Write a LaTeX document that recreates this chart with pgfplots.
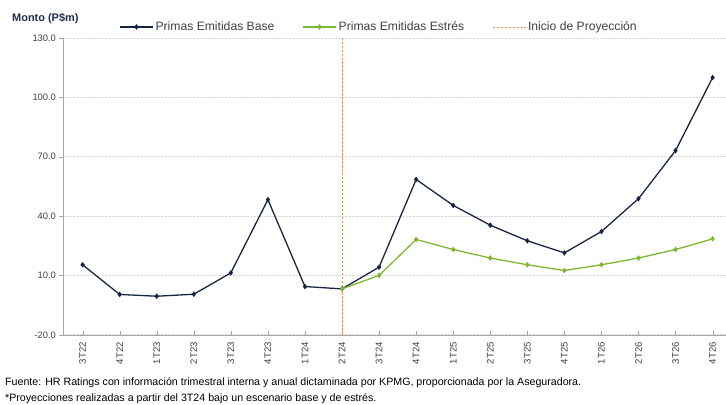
\documentclass[border=0pt]{standalone}
\usepackage{pgfplots}
\pgfplotsset{compat=1.18}
\usepackage{fontspec}
\setmainfont{Liberation Sans}
\definecolor{navy}{HTML}{172544}
\definecolor{lgreen}{HTML}{7DB92E}
\definecolor{orng}{HTML}{F0902E}
\definecolor{txt}{HTML}{404040}
\definecolor{gridc}{HTML}{D9D9D9}
\definecolor{axc}{HTML}{A6A6A6}
\definecolor{ttl}{HTML}{1F2D4E}
\begin{document}
\begin{tikzpicture}[x=1bp,y=1bp]
\path (0,0) rectangle (726,405);
\begin{axis}[
  at={(63bp,70bp)}, anchor=south west,
  width=663bp, height=297bp, scale only axis,
  xmin=-0.53, xmax=17.35, ymin=-20, ymax=130,
  ytick={-20,10,40,70,100,130},
  xtick={0,...,17},
  xticklabels={3T22,4T22,1T23,2T23,3T23,4T23,1T24,2T24,3T24,4T24,1T25,2T25,3T25,4T25,1T26,2T26,3T26,4T26},
  axis x line=bottom, axis y line=left,
  axis line style={axc,-},
  x tick label style={rotate=90, anchor=east, font=\fontsize{9.6}{10}\selectfont, text=txt, xshift=-4bp},
  y tick label style={font=\fontsize{9.4}{10}\selectfont, text=txt},
  /pgf/number format/.cd, fixed, fixed zerofill, precision=1, assume math mode=true,
  /pgfplots/.cd,
  ymajorgrids, grid style={gridc, densely dotted, line width=0.8pt},
  major tick length=3.5bp,
  xtick align=inside, ytick align=outside,
  tick style={axc},
  legend columns=3,
  legend style={draw=none, fill=none, at={(0.477,1.037)}, anchor=center,
    font=\fontsize{12.2}{13}\selectfont, text=txt, inner sep=0pt,
    /tikz/every even column/.append style={column sep=26bp}},
  legend image code/.code={\draw[#1] (0bp,0bp) -- (33bp,0bp); \path[#1,solid] plot coordinates {(16.5bp,0bp)};},
]
\addplot[navy, line width=1.3pt, mark=diamond*, mark size=1.8pt] coordinates {
(0,15.4) (1,0.4) (2,-0.5) (3,0.5) (4,11.3) (5,48.3) (6,4.4) (7,3.2) (8,14.2)
(9,58.5) (10,45.4) (11,35.4) (12,27.5) (13,21.4) (14,32.2) (15,48.8) (16,73.1) (17,110.0)};
\addlegendentry{Primas Emitidas Base}
\addplot[lgreen, line width=1.3pt, mark=diamond*, mark size=1.8pt] coordinates {
(7,3.2) (8,10.0) (9,28.2) (10,23.1) (11,18.8) (12,15.4) (13,12.5) (14,15.4) (15,18.8) (16,23.1) (17,28.5)};
\addlegendentry{Primas Emitidas Estrés}
\addplot[orng, line width=0.9pt, dash pattern=on 2.5pt off 1.5pt] coordinates {(7,-20) (7,130)};
\addlegendentry{Inicio de Proyección}
\end{axis}
\node[anchor=west, font=\bfseries\fontsize{11}{12}\selectfont, text=ttl, inner sep=0pt] at (12bp,386bp) {Monto (P\$m)};
\node[anchor=west, font=\fontsize{10.7}{12}\selectfont, inner sep=0pt] at (5bp,22bp) {Fuente: HR Ratings con información trimestral interna y anual dictaminada por KPMG, proporcionada por la Aseguradora.};
\node[anchor=west, font=\fontsize{10.7}{12}\selectfont, inner sep=0pt] at (5bp,6bp) {*Proyecciones realizadas a partir del 3T24 bajo un escenario base y de estrés.};
\end{tikzpicture}
\end{document}
